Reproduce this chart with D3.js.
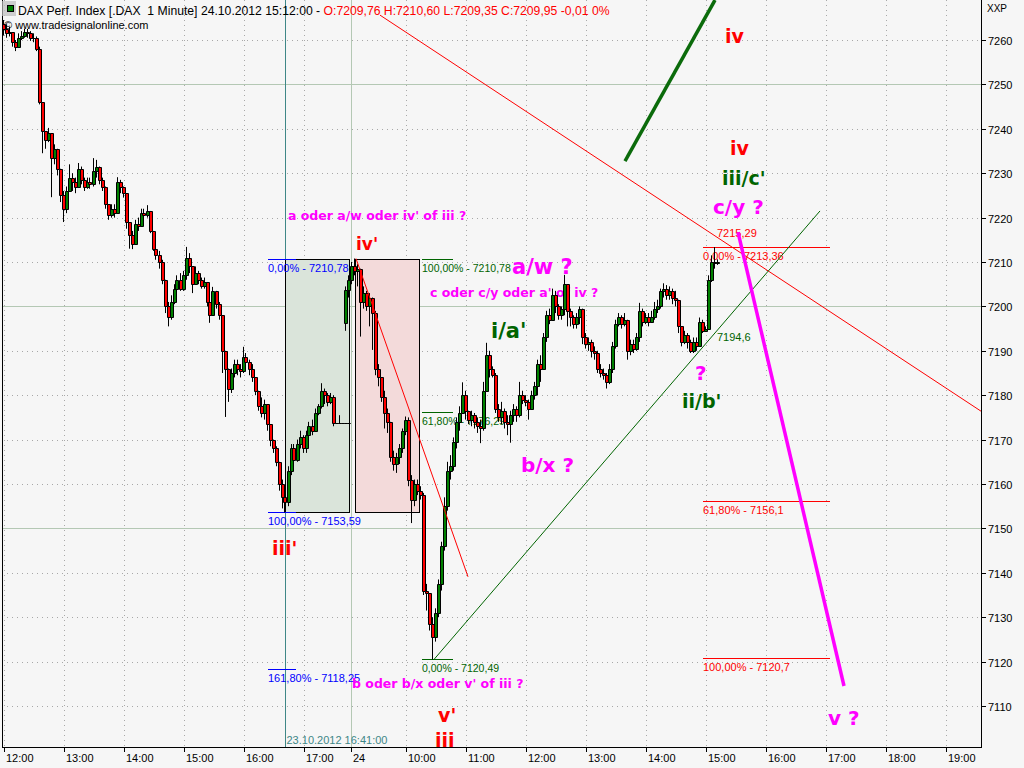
<!DOCTYPE html>
<html><head><meta charset="utf-8">
<script src="https://cdn.jsdelivr.net/npm/d3@7"></script>
<style>
html,body{margin:0;padding:0;background:#f6f6f6;}
svg{display:block;}
</style></head><body>
<svg id="c" width="1024" height="768"></svg>
<script>
// ================= DATA =================
// 3-minute candles. Day 23.10 from 12:00, day 24.10 from 09:00
const day23Open = 7263.5;
const day23Close = [7262.5,7261.5,7261.8,7259.5,7258.5,7260.5,7261.0,7261.8,7261.5,7260.5,7260.5,7258.0,7246.0,7239.5,7237.5,7239.0,7233.5,7235.5,7231.0,7225.0,7222.0,7226.0,7229.0,7228.0,7227.0,7231.0,7228.5,7227.0,7228.0,7227.5,7230.5,7231.5,7228.5,7227.0,7223.0,7220.5,7222.0,7221.0,7228.0,7227.0,7225.5,7219.0,7216.0,7214.0,7218.5,7218.0,7221.0,7220.5,7221.5,7217.0,7213.0,7211.5,7210.0,7206.0,7200.0,7197.5,7201.0,7204.0,7206.0,7204.0,7207.0,7211.0,7209.0,7205.0,7207.5,7206.0,7204.5,7205.5,7201.0,7198.0,7203.5,7200.5,7198.0,7190.0,7186.0,7181.5,7185.0,7187.0,7186.0,7185.5,7188.5,7187.5,7186.0,7184.0,7181.0,7177.5,7176.0,7178.0,7173.5,7170.0,7168.0,7165.0,7160.0,7157.0,7156.0,7163.0,7168.0,7165.5,7169.0,7170.5,7168.0,7171.0,7173.0,7172.0,7176.0,7177.5,7181.0,7180.0,7178.5,7179.5,7173.7,7173.7,7173.7,7173.7,7173.7,7173.7];
const day23High  = [7264.5,7263.5,7263.0,7261.8,7260.0,7261.5,7262.0,7262.5,7262.5,7262.0,7261.5,7260.8,7258.5,7246.0,7239.5,7240.2,7239.0,7236.5,7235.5,7231.0,7226.0,7227.0,7232.0,7230.0,7229.0,7232.3,7231.5,7229.0,7229.0,7229.0,7233.4,7233.0,7231.5,7229.0,7227.0,7223.0,7223.0,7223.0,7229.1,7228.5,7227.0,7225.5,7219.0,7217.0,7219.5,7220.0,7222.0,7222.0,7222.8,7221.5,7217.0,7213.5,7212.5,7210.5,7206.0,7201.0,7202.5,7205.0,7207.0,7207.5,7208.0,7213.4,7212.0,7209.0,7209.0,7208.0,7206.5,7206.5,7205.5,7203.0,7204.4,7203.5,7201.0,7198.0,7190.0,7186.0,7186.0,7188.0,7188.0,7187.0,7190.9,7189.5,7188.0,7187.0,7184.0,7181.0,7179.5,7179.0,7178.0,7173.5,7170.0,7168.5,7165.0,7161.0,7158.0,7164.0,7169.0,7169.0,7170.0,7172.0,7171.0,7172.0,7174.0,7174.5,7177.0,7178.0,7182.7,7181.5,7180.5,7180.5,7180.0,7173.7,7175.5,7173.7,7173.7,7173.7];
const day23Low   = [7261.0,7260.5,7260.8,7258.5,7257.5,7258.5,7260.0,7260.5,7260.5,7259.8,7259.5,7257.5,7245.5,7234.5,7235.5,7237.0,7224.6,7232.0,7229.5,7223.5,7219.0,7221.0,7226.0,7226.0,7225.5,7227.0,7227.5,7226.0,7226.5,7226.5,7227.0,7229.0,7227.5,7226.0,7222.0,7219.5,7220.0,7220.0,7221.0,7225.5,7224.5,7217.5,7213.0,7212.9,7214.0,7217.0,7218.0,7219.5,7220.0,7216.5,7212.5,7210.5,7208.5,7205.0,7198.5,7195.5,7197.0,7200.5,7203.5,7203.5,7203.5,7206.0,7207.5,7203.0,7205.0,7205.0,7204.0,7204.0,7200.0,7196.3,7198.0,7199.5,7197.0,7185.0,7175.1,7178.5,7180.5,7184.0,7184.5,7184.0,7185.0,7186.5,7184.5,7183.0,7180.0,7176.5,7175.0,7174.5,7172.0,7168.5,7167.0,7164.0,7158.5,7154.5,7153.59,7155.0,7162.0,7164.0,7165.0,7168.0,7167.0,7167.0,7170.5,7171.0,7172.0,7175.5,7177.0,7178.0,7177.5,7178.0,7173.0,7173.7,7173.7,7173.7,7173.7,7173.7];

const day24Open = 7196.2;
const day24Close = [7203.7,7206.0,7209.0,7208.0,7208.5,7201.0,7203.0,7200.0,7202.0,7198.5,7186.0,7184.0,7179.5,7176.0,7174.0,7166.0,7164.5,7166.0,7168.0,7172.0,7174.5,7161.0,7156.5,7160.0,7158.5,7157.5,7136.0,7135.5,7128.5,7125.5,7131.0,7137.5,7146.0,7155.0,7163.0,7164.0,7169.5,7174.0,7176.0,7180.0,7176.5,7174.5,7175.5,7174.0,7173.0,7172.5,7181.0,7189.0,7186.0,7184.5,7177.0,7175.0,7176.5,7174.0,7173.5,7175.5,7177.0,7175.5,7180.0,7179.0,7178.5,7177.0,7180.0,7182.0,7187.0,7186.0,7193.0,7198.0,7197.0,7202.5,7200.0,7198.0,7199.5,7205.0,7199.0,7197.5,7196.0,7197.5,7199.5,7193.0,7191.5,7192.0,7190.0,7189.5,7186.0,7185.0,7184.5,7183.0,7186.0,7191.0,7196.0,7197.5,7196.0,7197.0,7190.0,7191.5,7190.5,7193.0,7199.0,7196.5,7197.5,7196.5,7197.5,7199.5,7200.0,7203.5,7204.0,7202.5,7203.5,7202.0,7201.5,7195.5,7192.0,7193.5,7192.0,7190.0,7192.0,7191.0,7196.5,7194.5,7195.0,7206.0,7210.0,7209.76,7209.95];
const day24High  = [7204.5,7207.0,7210.0,7210.78,7209.5,7208.5,7204.5,7203.5,7203.0,7202.0,7199.0,7187.0,7184.0,7181.0,7177.0,7174.0,7167.5,7167.0,7169.0,7172.5,7175.2,7175.0,7162.0,7161.0,7161.0,7159.5,7158.0,7137.5,7134.0,7130.0,7132.0,7138.5,7147.0,7157.0,7165.0,7166.5,7170.5,7175.0,7177.5,7182.9,7181.0,7176.5,7176.5,7176.0,7175.0,7174.5,7183.0,7191.8,7190.0,7186.5,7185.0,7178.0,7178.5,7177.0,7175.5,7176.5,7178.0,7177.5,7183.0,7181.0,7180.0,7179.0,7181.0,7183.0,7188.0,7189.0,7194.0,7199.0,7199.5,7204.0,7203.5,7200.5,7200.0,7207.1,7205.0,7199.5,7198.0,7198.5,7200.0,7199.5,7194.0,7193.0,7192.5,7191.0,7190.0,7187.0,7186.0,7185.0,7187.0,7192.0,7197.0,7198.5,7198.0,7198.5,7197.0,7192.5,7192.5,7194.0,7200.8,7199.5,7198.5,7198.5,7199.0,7201.0,7201.5,7204.0,7205.2,7204.8,7204.5,7204.0,7203.5,7201.5,7195.5,7194.5,7194.0,7192.5,7193.0,7193.0,7197.5,7197.0,7195.5,7207.0,7211.5,7213.36,7210.6];
const day24Low   = [7194.5,7202.0,7205.0,7207.0,7204.5,7193.2,7199.5,7199.0,7195.5,7190.2,7184.5,7182.0,7178.5,7172.5,7171.5,7165.0,7163.0,7162.5,7164.5,7167.0,7171.0,7159.5,7151.2,7155.0,7157.5,7156.5,7135.0,7131.5,7127.0,7120.49,7124.5,7130.0,7136.0,7145.0,7154.0,7161.0,7163.0,7168.0,7172.0,7176.0,7174.5,7173.5,7173.0,7172.5,7171.5,7169.2,7172.0,7181.0,7184.0,7184.0,7176.0,7174.0,7173.5,7172.5,7171.0,7169.3,7174.0,7174.0,7175.0,7178.0,7177.5,7174.5,7177.0,7179.0,7180.0,7183.0,7186.0,7192.0,7196.0,7197.0,7198.5,7197.0,7197.0,7198.0,7195.5,7195.5,7195.0,7195.0,7196.0,7191.5,7190.5,7190.0,7188.5,7188.0,7185.0,7184.0,7183.5,7181.5,7182.5,7185.0,7190.5,7195.5,7195.0,7195.5,7188.0,7189.0,7189.5,7190.0,7192.0,7195.5,7196.0,7195.5,7196.5,7197.0,7198.5,7199.5,7202.0,7201.5,7201.5,7200.5,7200.0,7194.0,7191.0,7191.5,7190.5,7189.5,7189.5,7190.0,7191.0,7194.0,7194.6,7194.8,7205.5,7208.5,7209.35];

const priceTicks = [7110,7120,7130,7140,7150,7160,7170,7180,7190,7200,7210,7220,7230,7240,7250,7260];
const majorPriceLines = [7150,7200,7250];
const timeTickLabels = ["12:00","13:00","14:00","15:00","16:00","17:00","24","10:00","11:00","12:00","13:00","14:00","15:00","16:00","17:00","18:00","19:00"];
const timeTickDay    = [23,23,23,23,23,23,24,24,24,24,24,24,24,24,24,24,24];
const timeTickHour   = [12,13,14,15,16,17,9,10,11,12,13,14,15,16,17,18,19];
const timeTickMin    = [0,0,0,0,0,0,5,0,0,0,0,0,0,0,0,0,0];

const blueFibLabels  = ["0,00% - 7210,78","100,00% - 7153,59","161,80% - 7118,25"];
const blueFibPrices  = [7210.78,7153.59,7118.25];
const greenFibLabels = ["100,00% - 7210,78","61,80% - 7176,29","0,00% - 7120,49"];
const greenFibPrices = [7210.78,7176.29,7120.49];
const redFibLabels   = ["0,00% - 7213,36","61,80% - 7156,1","100,00% - 7120,7"];
const redFibPrices   = [7213.36,7156.1,7120.7];

const headerBlack = "DAX Perf. Index [.DAX  1 Minute] 24.10.2012 15:12:00 - ";
const headerRed   = "O:7209,76 H:7210,60 L:7209,35 C:7209,95 -0,01 0%";

// annotation anchors (session minute t, price)
const waveLabels = [
  {text:"iv",    t:721.5, p:7259.3, kind:"red"},
  {text:"iv",    t:726.5, p:7234.1, kind:"red"},
  {text:"iii/c'",t:718.5, p:7227.3, kind:"green"},
  {text:"c/y ?", t:709.5, p:7220.8, kind:"mag"},
  {text:"a/w ?", t:508.5, p:7207.3, kind:"magL"},
  {text:"iv'",   t:352.5, p:7212.7, kind:"redS"},
  {text:"i/a'",  t:487.5, p:7192.9, kind:"greenL"},
  {text:"b/x ?", t:517.5, p:7162.7, kind:"mag"},
  {text:"?",     t:691.5, p:7183.4, kind:"mag"},
  {text:"ii/b'", t:678.5, p:7177.1, kind:"green"},
  {text:"iii'",  t:268.5, p:7144.0, kind:"red"},
  {text:"v'",    t:434.5, p:7106.4, kind:"red"},
  {text:"iii",   t:431.5, p:7100.8, kind:"red"},
  {text:"v ?",   t:824.5, p:7105.7, kind:"mag"}
];
const commentLabels = [
  {text:"a oder a/w oder iv' of iii ?", t:284.5, p:7219.5},
  {text:"c oder c/y oder a' of iv ?",   t:426.5, p:7202.1},
  {text:"b oder b/x oder v' of iii ?",  t:348.5, p:7114.1}
];
const pointLabels = [
  {text:"7215,29", t:713.5, p:7215.6, kind:"red"},
  {text:"7194,6",  t:713.5, p:7192.2, kind:"green"}
];

// ================= SCALES =================
const day24Offset = 342.5;
const tOf = (day, h, m) => day === 23 ? (h - 12) * 60 + m : day24Offset + (h - 9) * 60 + m;
const x = d3.scaleLinear().domain([0, 1000]).range([3.5, 1003.5]);
const y = d3.scaleLinear().domain([7110, 7260]).range([706, 40]);

const plotL = 2, plotR = 981, plotB = 747, plotT = 0;

function buildCandles(day, h0, open0, closes, highs, lows) {
  const out = []; let o = open0;
  closes.forEach((c, i) => { out.push({t: tOf(day, h0, i * 3), o: o, h: highs[i], l: lows[i], c: c}); o = c; });
  return out;
}
const candles = buildCandles(23, 12, day23Open, day23Close, day23High, day23Low)
  .concat(buildCandles(24, 9, day24Open, day24Close, day24High, day24Low));
candles[candles.length - 1].o = 7209.76;

// ================= DRAW =================
const svg = d3.select('#c');
const FONT = '"Liberation Sans", Arial, sans-serif';
const BOLD = '"DejaVu Sans", Verdana, sans-serif';
const C = {red:'#ff0000', green:'#006400', mag:'#ff00ff', blue:'#0000ff', teal:'#3f8787'};

svg.append('rect').attr('width', 1024).attr('height', 768).attr('fill', '#f6f6f6');

svg.append('defs').append('clipPath').attr('id', 'plot')
  .append('rect').attr('x', plotL).attr('y', plotT).attr('width', plotR - plotL).attr('height', plotB - plotT);

const g = svg.append('g').attr('clip-path', 'url(#plot)');

// grid - horizontal
priceTicks.forEach(p => {
  const yy = Math.round(y(p)) + 0.5;
  const major = majorPriceLines.includes(p);
  g.append('line').attr('x1', plotL).attr('x2', plotR).attr('y1', yy).attr('y2', yy)
    .attr('stroke', major ? '#b4c8b4' : '#a8a8a8')
    .attr('stroke-dasharray', major ? null : '1,4');
});
// grid - vertical
const tickTs = timeTickLabels.map((l, i) => tOf(timeTickDay[i], timeTickHour[i], timeTickMin[i]));
tickTs.forEach((t, i) => {
  const xx = Math.round(x(t)) + 0.5;
  const sep = timeTickLabels[i] === "24";
  g.append('line').attr('x1', xx).attr('x2', xx).attr('y1', plotT).attr('y2', plotB)
    .attr('stroke', sep ? '#b4c8b4' : '#a8a8a8')
    .attr('stroke-dasharray', sep ? null : '1,4');
});
// teal marker line 23.10.2012 16:41
const markerT = tOf(23, 16, 41);
g.append('line').attr('x1', Math.round(x(markerT)) + 0.5).attr('x2', Math.round(x(markerT)) + 0.5)
  .attr('y1', plotT).attr('y2', plotB).attr('stroke', C.teal);

// Fib boxes
function box(t0, t1, p0, p1, fill) {
  const x0 = Math.round(x(t0)) + 0.5, x1 = Math.round(x(t1)) + 0.5;
  const y0 = Math.round(y(p1)) + 0.5, y1 = Math.round(y(p0)) + 0.5;
  g.append('rect').attr('x', x0).attr('y', y0).attr('width', x1 - x0).attr('height', y1 - y0)
    .attr('fill', fill).attr('stroke', '#000');
}
box(tOf(23, 16, 41.5), tOf(23, 17, 46), 7153.59, 7210.78, '#dae4da');
box(tOf(24, 9, 9.5), tOf(24, 10, 13.5), 7153.59, 7210.78, '#f3dada');

// Fib levels
function fib(labels, prices, t0, t1, color, fs) {
  prices.forEach((p, i) => {
    const yy = Math.round(y(p)) + 0.5;
    g.append('line').attr('x1', x(t0)).attr('x2', x(t1)).attr('y1', yy).attr('y2', yy).attr('stroke', color);
    g.append('text').attr('x', x(t0)).attr('y', yy + 12).text(labels[i])
      .attr('fill', color).attr('font-family', FONT).attr('font-size', fs);
  });
}
fib(blueFibLabels, blueFibPrices, 264.5, 292.5, C.blue, 11);
fib(greenFibLabels, greenFibPrices, 418.5, 449.5, C.green, 10.5);
fib(redFibLabels, redFibPrices, 699.5, 826.5, C.red, 11);

// comments
commentLabels.forEach(d => {
  g.append('text').attr('x', x(d.t)).attr('y', y(d.p)).text(d.text)
    .attr('fill', C.mag).attr('font-family', BOLD).attr('font-weight', 'bold').attr('font-size', 12.5);
});

// point labels
pointLabels.forEach(d => {
  g.append('text').attr('x', x(d.t)).attr('y', y(d.p)).text(d.text)
    .attr('fill', C[d.kind]).attr('font-family', FONT).attr('font-size', 11);
});

// candles
const cg = g.append('g');
candles.forEach(d => {
  const xc = Math.round(x(d.t));
  cg.append('line').attr('x1', xc - 0.5).attr('x2', xc - 0.5)
    .attr('y1', y(d.h)).attr('y2', y(d.l)).attr('stroke', '#000');
  const yt = Math.round(y(Math.max(d.o, d.c))) + 0.5;
  const yb = Math.round(y(Math.min(d.o, d.c))) + 0.5;
  cg.append('path').attr('d', `M${xc - 1.5},${yt}h3V${yb}h-3Z`)
    .attr('fill', d.c >= d.o ? '#008000' : '#ff0000').attr('stroke', '#000');
});

// trend lines
function seg(t0, p0, t1, p1, color, w) {
  g.append('line').attr('x1', x(t0)).attr('y1', y(p0)).attr('x2', x(t1)).attr('y2', y(p1))
    .attr('stroke', color).attr('stroke-width', w);
}
seg(376.5, 7265.6, 977.5, 7176.4, C.red, 1);
seg(352.5, 7210.78, 464.5, 7139.1, C.red, 1);
seg(430.5, 7120.49, 816.5, 7221.5, C.green, 1);
seg(621.5, 7232.7, 711.5, 7269.0, '#0b6b0b', 3.5);
seg(734.5, 7216.75, 840.5, 7114.5, C.mag, 3.5);

// wave labels
const waveStyle = {red:[C.red, 19], redS:[C.red, 17], green:[C.green, 19], greenL:[C.green, 21], mag:[C.mag, 20], magL:[C.mag, 21]};
waveLabels.forEach(d => {
  g.append('text').attr('x', x(d.t)).attr('y', y(d.p)).text(d.text)
    .attr('fill', waveStyle[d.kind][0]).attr('font-size', waveStyle[d.kind][1])
    .attr('font-family', BOLD).attr('font-weight', 'bold');
});

// marker date label
g.append('text').attr('x', x(markerT) + 2).attr('y', 744).text("23.10.2012 16:41:00")
  .attr('fill', C.teal).attr('font-family', FONT).attr('font-size', 11);

// borders
svg.append('line').attr('x1', plotL + 0.5).attr('x2', plotL + 0.5).attr('y1', 0).attr('y2', plotB).attr('stroke', '#000');
svg.append('line').attr('x1', plotR + 0.5).attr('x2', plotR + 0.5).attr('y1', 0).attr('y2', plotB + 0.5).attr('stroke', '#000');
svg.append('line').attr('x1', plotL).attr('x2', plotR + 1).attr('y1', plotB + 0.5).attr('y2', plotB + 0.5).attr('stroke', '#000');

// right axis
priceTicks.forEach(p => {
  const yy = Math.round(y(p)) + 0.5;
  svg.append('line').attr('x1', plotR + 1).attr('x2', plotR + 5).attr('y1', yy).attr('y2', yy).attr('stroke', '#000');
  svg.append('text').attr('x', plotR + 7).attr('y', yy + 4).text(p)
    .attr('font-family', FONT).attr('font-size', 11).attr('fill', '#000');
});
svg.append('text').attr('x', 987).attr('y', 12).text('XXP').attr('font-family', FONT).attr('font-size', 10).attr('fill', '#000');

// bottom axis
tickTs.forEach((t, i) => {
  const xx = Math.round(x(t)) + 0.5;
  svg.append('line').attr('x1', xx).attr('x2', xx).attr('y1', plotB + 1).attr('y2', plotB + 5).attr('stroke', '#000');
  svg.append('text').attr('x', xx + 1.5).attr('y', 762).text(timeTickLabels[i])
    .attr('font-family', FONT).attr('font-size', 11).attr('fill', '#000');
});

// header
svg.append('rect').attr('x', 2).attr('y', 1).attr('width', 14).attr('height', 15).attr('fill', '#bdbdbd').attr('opacity', 0.7);
svg.append('rect').attr('x', 7.5).attr('y', 5.5).attr('width', 6).attr('height', 6).attr('fill', '#008000').attr('stroke', '#000');
const ht = svg.append('text').attr('x', 18).attr('y', 15).attr('font-family', FONT).attr('font-size', 12.2)
  .style('white-space', 'pre');
ht.append('tspan').attr('fill', '#000').text(headerBlack);
ht.append('tspan').attr('fill', C.red).text(headerRed);
svg.append('text').attr('x', 4).attr('y', 29).attr('font-family', FONT).attr('font-size', 11)
  .attr('fill', '#000').text('\u00A9 www.tradesignalonline.com');
</script>
</body></html>
